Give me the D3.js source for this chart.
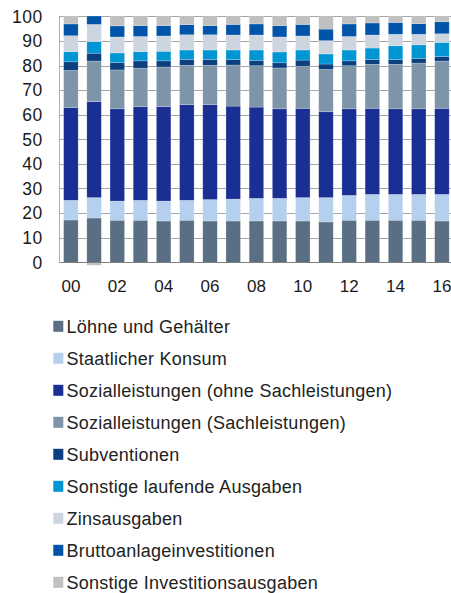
<!DOCTYPE html>
<html>
<head>
<meta charset="utf-8">
<script src="https://cdn.jsdelivr.net/npm/d3@7"></script>
<style>
  html, body { margin: 0; padding: 0; background: #fff; }
  svg { display: block; font-family: "Liberation Sans", Arial, sans-serif; }
</style>
</head>
<body>
<svg id="chart" width="451" height="593"></svg>
<script>
// ---- data ----
const years = ["00","01","02","03","04","05","06","07","08","09","10","11","12","13","14","15","16"];
const xTickLabels = ["00","02","04","06","08","10","12","14","16"];
const yTicks = [0,10,20,30,40,50,60,70,80,90,100];

const seriesNames = [
  "Löhne und Gehälter",
  "Staatlicher Konsum",
  "Sozialleistungen (ohne Sachleistungen)",
  "Sozialleistungen (Sachleistungen)",
  "Subventionen",
  "Sonstige laufende Ausgaben",
  "Zinsausgaben",
  "Bruttoanlageinvestitionen",
  "Sonstige Investitionsausgaben"
];
const seriesColors = ["#5a6f84","#b4d0ee","#1a2f94","#7e94a9","#0c3f7e","#0095d3","#cdd6e0","#0055aa","#c0c0c0"];

const loehne       = [17.2,18.0,17.1,17.1,16.8,17.1,16.8,16.8,16.8,16.8,16.8,16.4,17.1,17.1,17.1,17.1,16.8];
const staatKonsum  = [8.0,8.3,7.8,8.1,8.1,8.1,8.7,8.9,9.2,9.2,9.5,9.9,10.1,10.5,10.5,10.5,10.8];
const sozOhne      = [37.7,39.0,37.5,38.1,38.4,38.9,38.6,37.8,37.1,36.4,36.3,34.9,35.2,35.0,34.8,34.8,35.0];
const sozSach      = [15.1,16.5,15.8,15.6,16.1,16.0,16.0,16.7,16.8,16.6,17.1,17.2,17.5,17.9,18.1,18.6,19.2];
const subventionen = [3.5,3.2,3.0,3.0,2.5,2.4,2.4,2.2,2.2,2.1,2.5,2.2,2.0,1.9,1.9,1.9,1.8];
const sonstLaufend = [4.1,4.7,3.9,3.7,3.9,3.8,3.8,3.9,4.2,4.4,4.1,4.1,4.4,4.7,5.6,5.5,5.8];
const zinsausgaben = [6.5,7.0,6.5,6.2,6.2,6.2,6.2,6.1,6.1,6.1,5.7,5.4,5.5,5.3,4.7,4.3,3.5];
const brutto       = [4.8,4.5,4.5,4.4,4.2,4.1,3.7,4.3,4.5,4.6,4.7,4.7,5.1,4.9,4.8,4.3,4.9];
const sonstInvest  = [3.1,-1.2,3.9,3.8,3.8,3.4,3.8,3.3,3.1,3.8,3.3,5.2,3.1,2.7,2.5,3.0,2.2];

const seriesValues = [loehne, staatKonsum, sozOhne, sozSach, subventionen, sonstLaufend, zinsausgaben, brutto, sonstInvest];

// ---- build table ----
const keys = seriesNames.map((d, i) => "s" + i);
const table = years.map((y, j) => {
  const row = { year: y };
  keys.forEach((k, i) => row[k] = seriesValues[i][j]);
  return row;
});

// ---- layout ----
const svg = d3.select("#chart");
const plotLeft = 59.3, step = 23.19;
const x = d3.scaleBand().domain(years).range([plotLeft, plotLeft + step * years.length]).paddingInner(0.375).paddingOuter(0.1875);
const y = d3.scaleLinear().domain([0, 100]).range([262.3, 16.3]);

// clip at 100
svg.append("defs").append("clipPath").attr("id", "plotclip")
  .append("rect").attr("x", 0).attr("y", y(100)).attr("width", 451).attr("height", 300);

// gridlines
svg.append("g").selectAll("line").data(yTicks.filter(t => t > 0)).join("line")
  .attr("x1", plotLeft).attr("x2", 451)
  .attr("y1", d => Math.round(y(d)) + 0.5).attr("y2", d => Math.round(y(d)) + 0.5)
  .attr("stroke", "#a6a6a6").attr("stroke-width", 1);

// vertical axis line
svg.append("line").attr("x1", Math.round(plotLeft) + 0.5).attr("x2", Math.round(plotLeft) + 0.5)
  .attr("y1", y(100)).attr("y2", y(0)).attr("stroke", "#b0b0b0");

// stacked bars
const stack = d3.stack().keys(keys).offset(d3.stackOffsetDiverging);
const stacked = stack(table);
const gBars = svg.append("g").attr("clip-path", "url(#plotclip)");
gBars.selectAll("g").data(stacked).join("g")
  .attr("fill", (d, i) => seriesColors[i])
  .selectAll("rect").data(d => d).join("rect")
  .attr("x", d => x(d.data.year))
  .attr("width", x.bandwidth())
  .attr("y", d => y(Math.max(d[0], d[1])))
  .attr("height", d => Math.abs(y(d[0]) - y(d[1])))
  .attr("stroke", "#ffffff").attr("stroke-opacity", 0.35).attr("stroke-width", 0.6);

// x axis line
svg.append("line").attr("x1", plotLeft).attr("x2", 451)
  .attr("y1", Math.round(y(0)) + 0.5).attr("y2", Math.round(y(0)) + 0.5)
  .attr("stroke", "#808080").attr("stroke-width", 1);

// y labels
svg.append("g").selectAll("text").data(yTicks).join("text")
  .attr("x", 42.7).attr("y", d => y(d)).attr("dy", "0.36em")
  .attr("text-anchor", "end").attr("font-size", "17.5px").attr("letter-spacing", "0.5px")
  .attr("fill", "#1a1a1a").text(d => d);

// x labels
svg.append("g").selectAll("text").data(xTickLabels).join("text")
  .attr("x", d => x(d) + x.bandwidth() / 2).attr("y", 291.5)
  .attr("text-anchor", "middle").attr("font-size", "17px")
  .attr("fill", "#1a1a1a").text(d => d);

// legend
const legY0 = 326.3, legStep = 32.0;
const leg = svg.append("g").selectAll("g").data(seriesNames).join("g")
  .attr("transform", (d, i) => `translate(0,${legY0 + i * legStep})`);
leg.append("rect").attr("x", 53.3).attr("y", -5.5).attr("width", 10).attr("height", 11)
  .attr("fill", (d, i) => seriesColors[i]);
leg.append("text").attr("x", 66.5).attr("y", 6.2)
  .attr("font-size", "18px").attr("letter-spacing", "0.25px")
  .attr("fill", "#222").text(d => d);
</script>
</body>
</html>
